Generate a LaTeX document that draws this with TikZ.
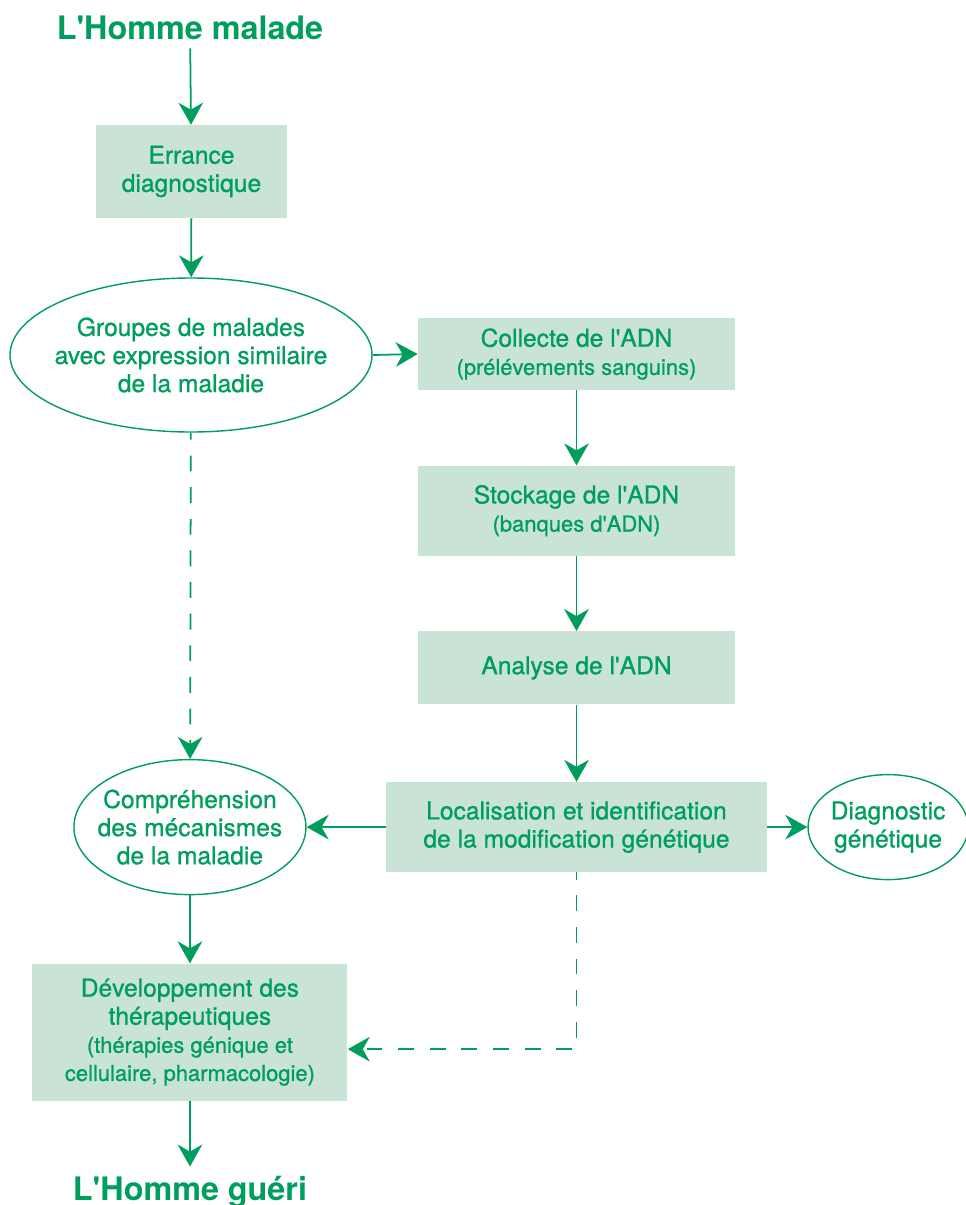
\documentclass[tikz,border=0pt]{standalone}
\usepackage{fontspec}
\setmainfont{TeX Gyre Heros}
\newfontfamily\demigras{TeX Gyre Heros}[FakeBold=0.9]
\usetikzlibrary{arrows.meta,positioning,shapes.geometric}

\definecolor{vert}{RGB}{0,158,92}
\definecolor{vertpale}{RGB}{201,228,215}
\newcommand{\petit}{\fontsize{12.5}{15}\selectfont}
\newcommand{\ap}{\textquotesingle}

\begin{document}
\begin{tikzpicture}[
    boite/.style={rectangle, fill=vertpale, text=vert, align=center,
                  inner sep=0pt, font=\demigras\fontsize{14}{16}\selectfont},
    bulle/.style={ellipse, draw=vert, line width=0.8pt, text=vert, align=center,
                  inner sep=-20pt, font=\demigras\fontsize{14}{16}\selectfont},
    titre/.style={text=vert, inner sep=5pt, font=\fontsize{18.4}{22}\selectfont\bfseries},
    fleche/.style={draw=vert, line width=1pt, -{Stealth[length=12.5pt, width=14pt, inset=4pt]}},
    tirets/.style={fleche, dash pattern=on 9pt off 9pt, dash phase=5pt}
]
\useasboundingbox (0,0) rectangle (19.32,-24.1);

\node[titre, anchor=base] (malade) at (3.8,-0.78) {L\ap Homme malade};

\node[boite, minimum width=3.82cm, minimum height=1.86cm] (errance) at (3.83,-3.43)
    {Errance\\diagnostique};

\node[bulle, minimum width=7.24cm, minimum height=3.08cm] (groupes) at (3.82,-7.1)
    {Groupes de malades\\avec expression similaire\\de la maladie};

\node[boite, minimum width=6.34cm, minimum height=1.44cm] (collecte) at (11.53,-7.08)
    {Collecte de l\ap ADN\\{\petit (prélévements sanguins)}};

\node[boite, minimum width=6.34cm, minimum height=1.8cm, below=1.5cm of collecte] (stockage)
    {Stockage de l\ap ADN\\{\petit (banques d\ap ADN)}};

\node[boite, minimum width=6.34cm, minimum height=1.46cm, below=1.5cm of stockage] (analyse)
    {Analyse de l\ap ADN};

\node[boite, minimum width=7.62cm, minimum height=1.8cm, below=1.54cm of analyse] (localisation)
    {Localisation et identification\\de la modification génétique};

\node[bulle, minimum width=4.64cm, minimum height=2.7cm, left=1.58cm of localisation] (comprehension)
    {Compréhension\\des mécanismes\\de la maladie};

\node[bulle, minimum width=3.2cm, minimum height=2.1cm, right=0.8cm of localisation] (diagnostic)
    {Diagnostic\\génétique};

\node[boite, minimum width=6.3cm, minimum height=2.74cm, below=1.36cm of comprehension] (therapies)
    {Développement des\\thérapeutiques\\{\petit (thérapies génique et}\\{\petit cellulaire, pharmacologie)}};

\node[titre, anchor=base] (gueri) at (3.8,-24.0) {L\ap Homme guéri};

\coordinate (entree) at ([yshift=-0.34cm]therapies.east);

\draw[fleche] (malade) -- (errance);
\draw[fleche] (errance) -- (groupes);
\draw[fleche] (groupes.east) -- (collecte.west);
\draw[fleche] (collecte) -- (stockage);
\draw[fleche] (stockage) -- (analyse);
\draw[fleche] (analyse) -- (localisation);
\draw[fleche] (localisation) -- (comprehension);
\draw[fleche] (localisation) -- (diagnostic);
\draw[tirets] (groupes) -- (comprehension);
\draw[fleche] (comprehension) -- (therapies);
\draw[tirets] (localisation.south) |- (entree);
\draw[fleche] (therapies) -- (gueri);

\end{tikzpicture}
\end{document}
